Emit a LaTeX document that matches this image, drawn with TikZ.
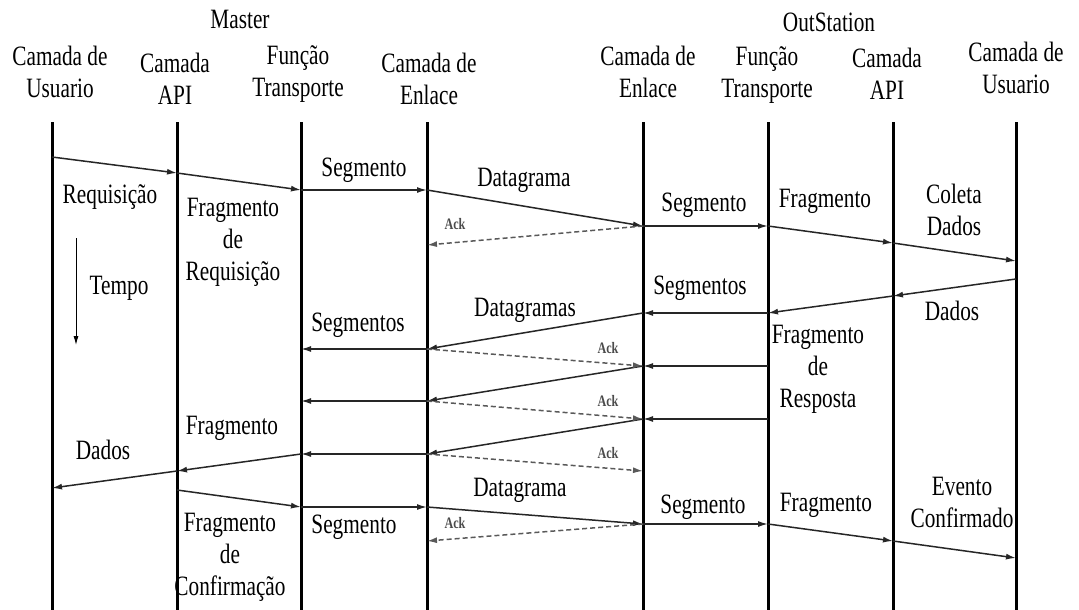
\documentclass[tikz,border=0pt]{standalone}
\usepackage{fontspec}
\setmainfont[FakeStretch=0.76]{Liberation Serif}
\usetikzlibrary{arrows.meta}

\tikzset{
  lifeline/.style={line width=3pt},
  msg/.style={line width=1.5pt, draw=black!85, -{Latex[length=10pt,width=6pt]}},
  ack/.style={msg, dash pattern=on 5pt off 3pt, draw=black!65},
  lbl/.style={font=\fontsize{28}{32}\selectfont, align=center, inner sep=0pt},
  acklbl/.style={font=\fontsize{16}{18}\selectfont\bfseries, text=black!70, inner sep=0pt}
}

\begin{document}
\begin{tikzpicture}[x=1pt,y=-1pt]
  \useasboundingbox (0,0) rectangle (1079,610);
  % lifelines
  \foreach \n/\x in {uM/52,aM/177,tM/301,eM/427,eO/643,tO/768,aO/893,uO/1016} {
    \coordinate (\n) at (\x,122);
    \draw[lifeline] (\n) -- (\n |- 0,610);
  }
  % headers
  \node[lbl] (master) at (240,19) {Master};
  \node[lbl] (outst) at (829,22) {OutStation};
  \node[lbl] (huM) at (60,72) {Camada de\\Usuario};
  \node[lbl] (haM) at (175,79) {Camada\\API};
  \node[lbl] (htM) at (298,74) {Função\\Transporte};
  \node[lbl] (heM) at (429,79) {Camada de\\Enlace};
  \node[lbl] (heO) at (648,72) {Camada de\\Enlace};
  \node[lbl] (htO) at (767,75) {Função\\Transporte};
  \node[lbl] (haO) at (887,74) {Camada\\API};
  \node[lbl] (huO) at (1016,68) {Camada de\\Usuario};
  % messages
  \foreach \a/\ya/\b/\yb in {uM/157/aM/173, aM/173/tM/190, tM/190/eM/190, eM/190/eO/226,
      eO/226/tO/226, tO/226/aO/243, aO/243/uO/261, uO/279/aO/296, aO/296/tO/313,
      tO/313/eO/313, eO/313/eM/349, eM/349/tM/349, tO/366/eO/366, eO/366/eM/401,
      eM/401/tM/401, tO/419/eO/419, eO/419/eM/454, eM/454/tM/454, tM/454/aM/471,
      aM/471/uM/488, aM/490/tM/507, tM/507/eM/507, eM/507/eO/524, eO/524/tO/524,
      tO/524/aO/541, aO/541/uO/558} {
    \draw[msg] (\a |- 0,\ya) -- (\b |- 0,\yb);
  }
  % acks
  \foreach \a/\ya/\b/\yb in {eO/226/eM/245, eM/349/eO/366, eM/401/eO/419,
      eM/454/eO/471, eO/524/eM/541} {
    \draw[ack] (\a |- 0,\ya) -- (\b |- 0,\yb);
  }
  \foreach \p [count=\i] in {(455,224),(608,348),(608,401),(608,453),(455,523)} {
    \node[acklbl] (ack\i) at \p {Ack};
  }
  % message labels
  \foreach \p/\t [count=\i] in {(110,197)/Requisição, (233,242)/Fragmento\\de\\Requisição,
      (364,170)/Segmento, (524,180)/Datagrama, (704,205)/Segmento, (825,201)/Fragmento,
      (954,210)/Coleta\\Dados, (952,311)/Dados, (700,288)/Segmentos, (525,310)/Datagramas,
      (358,325)/Segmentos, (818,369)/Fragmento\\de\\Resposta, (232,428)/Fragmento,
      (103,450)/Dados, (520,490)/Datagrama, (703,507)/Segmento, (826,505)/Fragmento,
      (962,502)/Evento\\Confirmado, (230,557)/Fragmento\\de\\Confirmação, (354,527)/Segmento} {
    \node[lbl] (m\i) at \p {\t};
  }
  % time axis
  \node[lbl] (tempo) at (119,288) {Tempo};
  \coordinate (t0) at (76,238);
  \coordinate (t1) at (76,345);
  \draw[line width=1pt, -{Latex[length=9pt,width=5pt]}] (t0) -- (t1);
\end{tikzpicture}
\end{document}
